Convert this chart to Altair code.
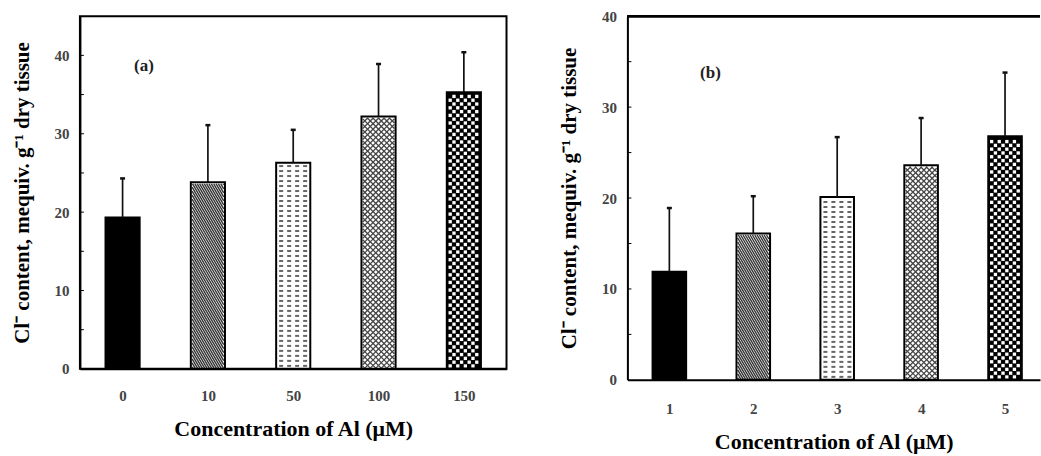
import altair as alt
import pandas as pd

# ---- data ----
a_labels = ["0", "10", "50", "100", "150"]
a_mean = [19.3, 23.8, 26.3, 32.2, 35.3]
a_sd = [5.0, 7.3, 4.2, 6.7, 5.1]

b_labels = ["1", "2", "3", "4", "5"]
b_mean = [11.9, 16.1, 20.1, 23.6, 26.8]
b_sd = [7.0, 4.1, 6.6, 5.2, 7.0]

fill_styles = ["solid", "hatch", "dash", "cross", "check"]
fill_base = ["black", "white", "white", "white", "black"]

FONT = "Liberation Serif"
Y_TITLE = "Cl\u207b content, mequiv. g\u207b\u00b9 dry tissue"
X_TITLE = "Concentration of Al (\u03bcM)"


def XQ(f):
    return alt.X(f, title=X_TITLE)


def YQ(f):
    return alt.Y(f, title=Y_TITLE)


def line_family(base, style, S, step, kx, ky, direction, sw, color):
    wpx = 0.4 * kx - 2.5
    t = base.transform_filter(f"datum.style == '{style}'").transform_calculate(
        h=f"datum.mean * {ky} - 1.5"
    )
    if direction == "back":
        t = t.transform_calculate(
            cs=f"sequence({step / 2}, datum.h + {S} * {wpx}, {step})"
        ).transform_flatten(["cs"]).transform_calculate(
            xs=f"max(0, (datum.cs - datum.h) / {S})",
            xe=f"min({wpx}, datum.cs / {S})",
        ).transform_calculate(
            ys=f"datum.cs - {S} * datum.xs",
            ye=f"datum.cs - {S} * datum.xe",
        )
    else:
        t = t.transform_calculate(
            cs=f"sequence({-S * wpx + step / 2}, datum.h, {step})"
        ).transform_flatten(["cs"]).transform_calculate(
            xs=f"max(0, -datum.cs / {S})",
            xe=f"min({wpx}, (datum.h - datum.cs) / {S})",
        ).transform_calculate(
            ys=f"datum.cs + {S} * datum.xs",
            ye=f"datum.cs + {S} * datum.xe",
        )
    t = t.transform_filter("datum.xe > datum.xs").transform_calculate(
        X1=f"datum.idx + 0.3 + (1.25 + datum.xs) / {kx}",
        X2=f"datum.idx + 0.3 + (1.25 + datum.xe) / {kx}",
        Y1=f"datum.ys / {ky}",
        Y2=f"datum.ye / {ky}",
    )
    return t.mark_rule(strokeWidth=sw, color=color).encode(
        x=XQ("X1:Q"), x2="X2:Q",
        y=YQ("Y1:Q"), y2="Y2:Q",
    )


def panel(labels, means, sds, ymax, W, H, xmax, tag, tag_x, tag_y,
          full_frame, lab_pad_x, title_pad_x, title_pad_y):
    df = pd.DataFrame({
        "idx": list(range(len(labels))),
        "label": labels,
        "mean": means,
        "sd": sds,
        "style": fill_styles,
    })
    kx = W / xmax
    ky = H / ymax
    xscale = alt.Scale(domain=[0, xmax], nice=False, zero=False)
    yscale = alt.Scale(domain=[0, ymax], nice=False, zero=True)
    label_expr = "[" + ",".join(f"'{l}'" for l in labels) + "][floor(datum.value)]"

    base = alt.Chart(df).transform_calculate(
        x0="datum.idx + 0.3",
        x1="datum.idx + 0.7",
        xc="datum.idx + 0.5",
        top="datum.mean + datum.sd",
        zero="0",
    )

    bars = base.mark_rect().encode(
        x=alt.X("x0:Q", scale=xscale, title=X_TITLE,
                axis=alt.Axis(values=[i + 0.5 for i in range(len(labels))],
                              labelExpr=label_expr, ticks=False, grid=False,
                              domainColor="black", domainWidth=2,
                              labelFont=FONT, labelFontWeight="bold",
                              labelFontSize=15, labelColor="#444",
                              labelPadding=lab_pad_x,
                              titleFont=FONT, titleFontWeight="bold",
                              titleFontSize=22, titleColor="black",
                              titlePadding=title_pad_x)),
        x2="x1:Q",
        y=alt.Y("mean:Q", scale=yscale, title=Y_TITLE,
                axis=alt.Axis(values=[0, 10, 20, 30, 40], ticks=False, grid=False,
                              domainColor="black", domainWidth=2,
                              labelFont=FONT, labelFontWeight="bold",
                              labelFontSize=15, labelColor="#444",
                              labelPadding=11,
                              titleFont=FONT, titleFontWeight="bold",
                              titleFontSize=21, titleColor="black",
                              titlePadding=title_pad_y)),
        y2="zero:Q",
        color=alt.Color("style:N", scale=alt.Scale(domain=fill_styles, range=fill_base),
                        legend=None),
    )

    hatch = line_family(base, "hatch", 1.7, 4.0, kx, ky, "back", 1.4, "#333")
    cross1 = line_family(base, "cross", 1.0, 5.5, kx, ky, "back", 1.3, "#444")
    cross2 = line_family(base, "cross", 1.0, 5.5, kx, ky, "fwd", 1.3, "#444")

    wpx = 0.4 * kx
    dashes = base.transform_filter("datum.style == 'dash'").transform_calculate(
        rows=f"sequence(3, datum.mean * {ky} - 2, 5)"
    ).transform_flatten(["rows"]).transform_calculate(
        cols=f"sequence(3, {wpx - 5}, 8)"
    ).transform_flatten(["cols"]).transform_calculate(
        DX1=f"datum.idx + 0.3 + datum.cols / {kx}",
        DX2=f"datum.idx + 0.3 + (datum.cols + 4) / {kx}",
        DY=f"datum.rows / {ky}",
    ).mark_rule(strokeWidth=2, color="#666").encode(
        x=XQ("DX1:Q"), x2="DX2:Q", y=YQ("DY:Q")
    )

    cell = 3.8
    checks = base.transform_filter("datum.style == 'check'").transform_calculate(
        r=f"sequence(0, floor((datum.mean * {ky} - 3) / {cell}))"
    ).transform_flatten(["r"]).transform_calculate(
        c=f"sequence(0, floor(({wpx} - 3) / {cell}))"
    ).transform_flatten(["c"]).transform_filter(
        "(datum.r + datum.c) % 2 == 0"
    ).transform_calculate(
        CX=f"datum.idx + 0.3 + (1.5 + {cell} * (datum.c + 0.5)) / {kx}",
        CY=f"(1 + {cell} * (datum.r + 0.5)) / {ky}",
    ).mark_square(size=11, color="white", opacity=1).encode(
        x=XQ("CX:Q"), y=YQ("CY:Q")
    )

    outline = base.mark_rect(fillOpacity=0, stroke="black", strokeWidth=2).encode(
        x=XQ("x0:Q"), x2="x1:Q",
        y=YQ("mean:Q"), y2="zero:Q",
    )

    err = base.mark_rule(strokeWidth=1.7, color="#111").encode(
        x=XQ("xc:Q"), y=YQ("mean:Q"), y2="top:Q"
    )
    cap = base.transform_calculate(
        c0=f"datum.xc - 2.5 / {kx}", c1=f"datum.xc + 2.5 / {kx}"
    ).mark_rule(strokeWidth=2.5, color="#111").encode(
        x=XQ("c0:Q"), x2="c1:Q", y=YQ("top:Q")
    )

    ticks = alt.Chart(alt.sequence(5, ymax, 5, as_="t")).mark_rule(
        color="black", strokeWidth=1
    ).encode(y=YQ("t:Q"), x=alt.value(0), x2=alt.value(4))

    label = alt.Chart(pd.DataFrame({"tag": [tag]})).mark_text(
        font=FONT, fontWeight="bold", fontSize=17, color="#222"
    ).encode(x=alt.datum(tag_x), y=alt.datum(tag_y), text="tag:N")

    layers = [bars, hatch, cross1, cross2, dashes, checks, outline, err, cap, ticks, label]
    if not full_frame:
        top = base.mark_rule(color="black", strokeWidth=2).encode(y=alt.datum(ymax))
        layers.append(top)

    view = alt.ViewBackground(stroke="black", strokeWidth=2) if full_frame \
        else alt.ViewBackground(stroke=None)
    return alt.layer(*layers).properties(width=W, height=H, view=view)


pa = panel(a_labels, a_mean, a_sd, 45, 427, 353, 5.0, "(a)", 0.75, 38.6,
           True, 20, 15, 21)
pb = panel(b_labels, b_mean, b_sd, 40, 413, 364, 413 / 84, "(b)", 0.99, 33.8,
           False, 22, 15, 22)

chart = alt.hconcat(pa, pb, spacing=121, bounds="flush").properties(
    padding={"left": 11, "top": 9, "right": 0, "bottom": 4}
)

chart.save("out.html", embed_options={"renderer": "svg", "actions": False})
